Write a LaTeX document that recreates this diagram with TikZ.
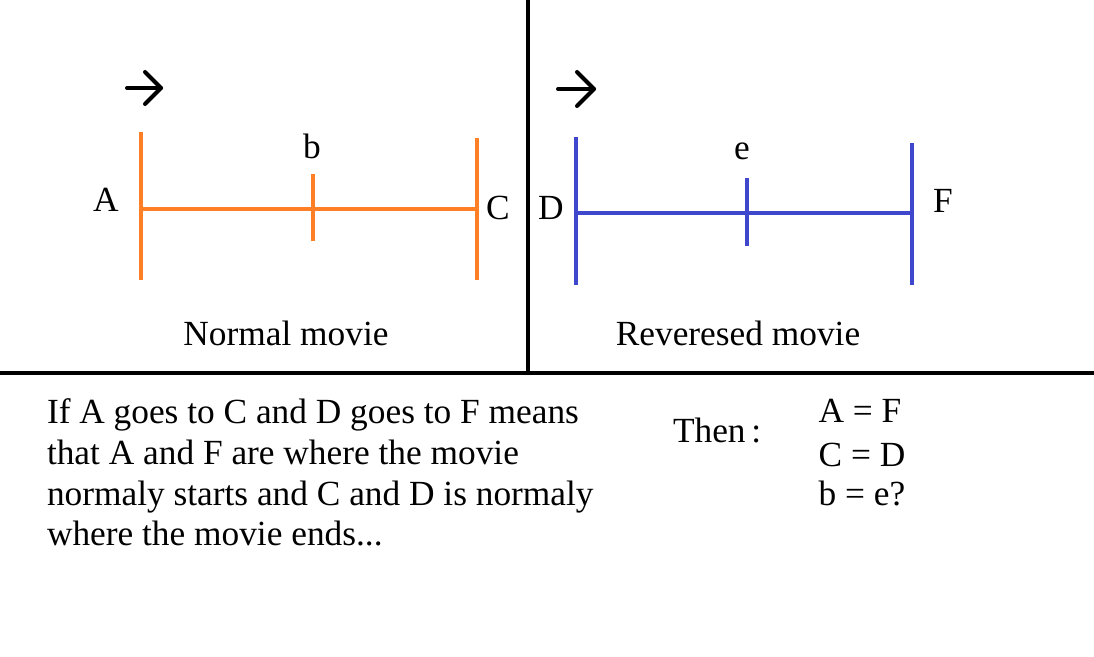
\documentclass[tikz,border=0pt]{standalone}
\usepackage{fontspec}
\setmainfont{Liberation Serif}
\definecolor{orangeline}{RGB}{255,127,39}
\definecolor{blueline}{RGB}{63,72,204}
\begin{document}
\begin{tikzpicture}[x=0.75pt,y=-0.75pt,
  txt/.style={font=\fontsize{26.5}{30.75}\selectfont, inner sep=0pt, outer sep=0pt},
  divider/.style={line width=3pt, black},
  obar/.style={line width=3pt, orangeline},
  bbar/.style={line width=3pt, blueline},
  dirarrow/.style={line width=3pt, black, line cap=round, line join=round}]
\useasboundingbox (0,0) rectangle (1094,656);
\fill[white] (0,0) rectangle (1094,656);
% dividers
\draw[divider] (528,0) -- (528,373);
\draw[divider] (0,373) -- (1094,373);
% direction arrows
\draw[dirarrow] (127,88) -- (161,88);
\draw[dirarrow] (145,72) -- (161,88) -- (145,104);
\draw[dirarrow] (558,89) -- (594,89);
\draw[dirarrow] (577,72) -- (594,89) -- (577,106);
% normal movie (orange)
\draw[obar] (141,132) -- (141,280);
\draw[obar] (141,209) -- (477,209);
\draw[obar] (313,174) -- (313,241);
\draw[obar] (477,138) -- (477,280);
% reversed movie (blue)
\draw[bbar] (576,137) -- (576,285);
\draw[bbar] (576,213) -- (912,213);
\draw[bbar] (747,178) -- (747,246);
\draw[bbar] (912,143) -- (912,285);
% labels
\node[txt, anchor=base west] (lA) at (93,211) {A};
\node[txt, anchor=base west] (lb) at (303,158) {b};
\node[txt, anchor=base west] (lC) at (486,219) {C};
\node[txt, anchor=base west] (lD) at (538,219) {D};
\node[txt, anchor=base west] (le) at (734,159) {e};
\node[txt, anchor=base west] (lF) at (933,212) {F};
\node[txt, anchor=base] (tnormal) at (286,345) {Normal movie};
\node[txt, anchor=base] (treversed) at (738,345) {Reveresed movie};
% bottom text
\node[txt, anchor=base west] (p1) at (47,423) {If A goes to C and D goes to F means};
\node[txt, anchor=base west] (p2) at (47,464) {that A and F are where the movie};
\node[txt, anchor=base west] (p3) at (47,505) {normaly starts and C and D is normaly};
\node[txt, anchor=base west] (p4) at (47,545) {where the movie ends...};
\node[txt, anchor=base west] (then) at (673,442) {Then\,:};
\node[txt, anchor=base] (eq1) at (860,422) {A = F};
\node[txt, anchor=base] (eq2) at (862,466) {C = D};
\node[txt, anchor=base] (eq3) at (862,505) {b = e?};
\end{tikzpicture}
\end{document}
